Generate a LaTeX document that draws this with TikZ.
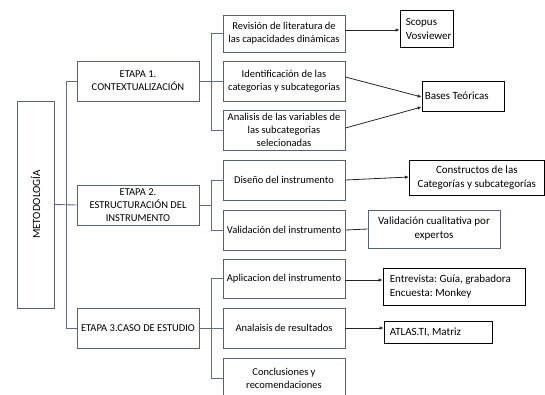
\documentclass[tikz,border=0pt]{standalone}
\usepackage{fontspec}
\setmainfont{Carlito}
\usetikzlibrary{arrows.meta}
\definecolor{boxc}{RGB}{85,98,120}
\definecolor{treec}{RGB}{95,110,135}
\begin{document}
\begin{tikzpicture}[x=1pt,y=-1pt,
  every node/.style={font=\fontsize{10.5}{13}\selectfont\frenchspacing, inner sep=1pt},
  big/.style={font=\fontsize{11}{14}\selectfont\frenchspacing},
  stage/.style={draw=boxc, line width=0.8pt, align=center, minimum width=122pt, minimum height=40pt},
  sub/.style={draw=boxc, line width=0.8pt, align=center, minimum width=122pt, minimum height=40pt},
  res/.style={draw=black, line width=0.8pt},
  restext/.style={big, anchor=west, align=left},
  tree/.style={draw=treec, line width=0.9pt},
  arr/.style={draw=black!85, line width=0.8pt, -{Latex[length=4pt,width=3.5pt]}},
  plain/.style={draw=black!85, line width=0.8pt}]
\useasboundingbox (0,0) rectangle (545,394);
\fill[white] (0,0) rectangle (545,394);
% main box
\node[draw=boxc, line width=0.8pt, minimum width=37pt, minimum height=207pt] (M) at (35.5,204.5) {};
\node[rotate=90, font=\fontsize{11}{13}\selectfont] (Mt) at (M.center) {METODOLOGÍA};
% stages
\node[stage] (E1) at (138,81) {ETAPA 1.\\CONTEXTUALIZACIÓN};
\node[stage] (E2) at (138,205) {ETAPA 2.\\ESTRUCTURACIÓN DEL\\INSTRUMENTO};
\node[stage] (E3) at (138,328) {ETAPA 3.CASO DE ESTUDIO};
% column 2
\node[sub, minimum height=37pt] (Rev) at (284,33.5) {Revisión de literatura de\\las capacidades dinámicas};
\node[sub] (Ide) at (284,81) {Identificación de las\\categorias y subcategorias};
\node[sub] (Ana) at (284,130) {Analisis de las variables de\\las subcategorias\\selecionadas};
\node[sub] (Dis) at (284,180) {Diseño del instrumento};
\node[sub] (Val) at (284,230) {Validación del instrumento};
\node[sub, minimum height=39pt] (Apl) at (284,278.5) {Aplicacion del instrumento};
\node[sub] (Anl) at (284,328) {Analaisis de resultados};
\node[sub] (Con) at (284,378) {Conclusiones y\\recomendaciones};
% column 3
\node[res, minimum width=53pt, minimum height=37pt] (Sco) at (426.5,28.5) {};
\node[restext] (ScoT) at ([xshift=5pt]Sco.west) {Scopus\\Vosviewer};
\node[res, minimum width=82pt, minimum height=30pt] (Bas) at (463,96) {};
\node[restext] (BasT) at ([xshift=2pt]Bas.west) {Bases Teóricas};
\node[res, minimum width=135pt, minimum height=35pt, align=center, big] (Cons) at (476.8,177.5) {Constructos de las\\Categorías y subcategorías};
\node[draw=boxc, line width=0.8pt, minimum width=132pt, minimum height=38pt, align=center, big] (VC) at (434,229) {Validación cualitativa por\\expertos};
\node[res, minimum width=142pt, minimum height=37pt] (Ent) at (454,286.5) {};
\node[restext] (EntT) at ([xshift=6pt]Ent.west) {Entrevista: Guía, grabadora\\Encuesta: Monkey};
\node[res, minimum width=108pt, minimum height=22pt] (Atl) at (438,332) {};
\node[restext] (AtlT) at ([xshift=5pt]Atl.west) {ATLAS.TI, Matriz};
% tree connectors
\coordinate (T1) at (66,0);
\draw[tree] (M.east) -- (E2.west);
\draw[tree] (E1.west) -- (E1.west -| T1) -- (E3.west -| T1) -- (E3.west);
\coordinate (T2) at (211.5,0);
\draw[tree] (E1.east) -- (E1.east -| T2);
\draw[tree] (Rev.west) -- (Rev.west -| T2) -- (Ana.west -| T2) -- (Ana.west);
\draw[tree] (Ide.west) -- (Ide.west -| T2);
\draw[tree] (E2.east) -- (E2.east -| T2);
\draw[tree] (Dis.west) -- (Dis.west -| T2) -- (Val.west -| T2) -- (Val.west);
\draw[tree] (E3.east) -- (E3.east -| T2);
\draw[tree] (Apl.west) -- (Apl.west -| T2) -- (Con.west -| T2) -- (Con.west);
\draw[tree] (Anl.west) -- (Anl.west -| T2);
% result connectors
\coordinate (RevA) at ([yshift=3.5pt]Rev.east);
\draw[arr] (RevA) -- (RevA -| Sco.west);
\draw[arr] ([yshift=4pt]Ide.east) -- ([yshift=-1pt]Bas.west);
\draw[arr] ([yshift=2pt]Ana.east) -- ([yshift=-11pt]Bas.west);
\draw[arr] (Dis.east) -- ([yshift=0.5pt]Cons.west);
\draw[plain] (Val.east) -- (VC.west);
\coordinate (AplA) at ([yshift=-1.5pt]Apl.east);
\draw[arr] (AplA) -- (AplA -| Ent.west);
\draw[arr] (Anl.east) -- (Anl.east -| Atl.west);
\end{tikzpicture}
\end{document}
